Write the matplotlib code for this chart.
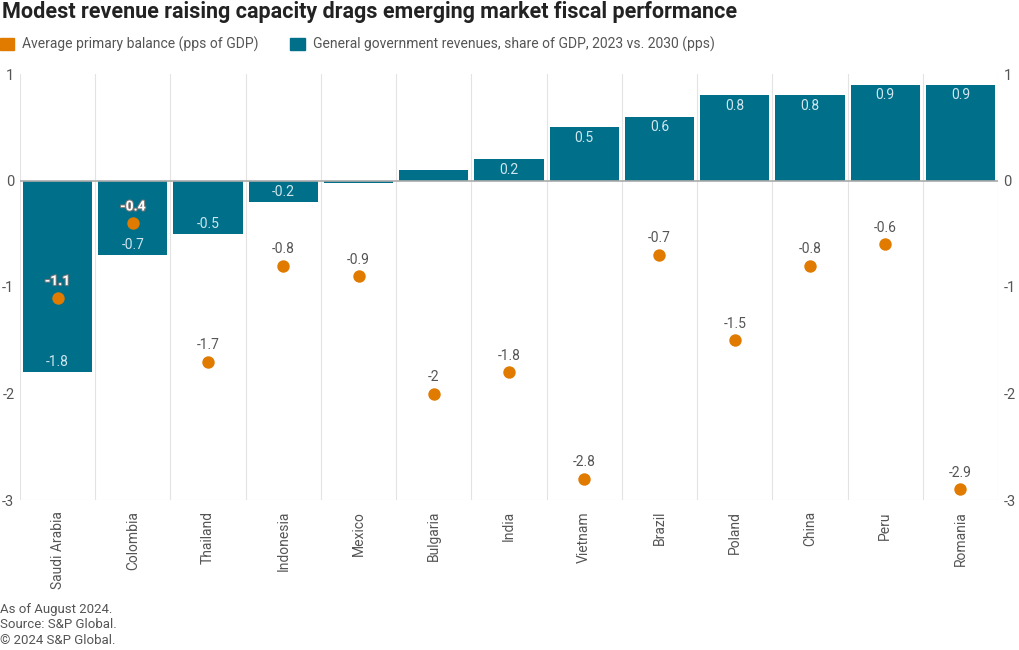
import numpy as np
import matplotlib.pyplot as plt
import matplotlib.patheffects as pe

plt.rcParams['font.family'] = ['Roboto', 'DejaVu Sans']

countries = ["Saudi Arabia", "Colombia", "Thailand", "Indonesia", "Mexico", "Bulgaria",
             "India", "Vietnam", "Brazil", "Poland", "China", "Peru", "Romania"]
revenues = [-1.8, -0.7, -0.5, -0.2, -0.02, 0.1, 0.2, 0.5, 0.6, 0.8, 0.8, 0.9, 0.9]
primary_balance = [-1.1, -0.4, -1.7, -0.8, -0.9, -2.0, -1.8, -2.8, -0.7, -1.5, -0.8, -0.6, -2.9]

teal = "#006F8A"
orange = "#E07B00"
grey_txt = "#555555"

fig = plt.figure(figsize=(10.2, 6.5), dpi=100)
ax = fig.add_axes([20 / 1020, 1 - 500 / 650, 978 / 1020, 426 / 650])

x = np.arange(len(countries))
ax.bar(x, revenues, width=0.92, color=teal, zorder=2)
ax.scatter(x, primary_balance, s=80, color=orange, zorder=4, linewidths=0)

# bar labels at the end of each bar (skip the very small ones)
for xi, v in zip(x, revenues):
    if abs(v) < 0.15:
        continue
    y = v - 0.1 if v > 0 else v + 0.095
    ax.text(xi, y, f"{v:g}", ha="center", va="center", color="#cfe6ee", fontsize=10, zorder=3)

# dot labels
for xi, v, b in zip(x, primary_balance, revenues):
    inside = (b < 0 and v > b)
    if inside:
        ax.text(xi, v + 0.09, f"{v:g}", ha="center", va="bottom", color="white", fontsize=10,
                fontweight="bold", zorder=5,
                path_effects=[pe.withStroke(linewidth=1.5, foreground="#777777")])
    else:
        ax.text(xi, v + 0.09, f"{v:g}", ha="center", va="bottom", color=grey_txt, fontsize=10, zorder=5)

ax.set_xlim(-0.5, len(countries) - 0.5)
ax.set_ylim(-3, 1)
for b in np.arange(-0.5, len(countries), 1.0):
    ax.axvline(b, color="#e3e3e3", lw=0.8, zorder=1)
ax.axhline(0, color="#aaaaaa", lw=1.2, zorder=3)
ax.axhline(-3, color="#e3e3e3", lw=0.8, zorder=1)

for s in ax.spines.values():
    s.set_visible(False)

ax.set_xticks(x)
ax.set_xticklabels(countries, rotation=90, color=grey_txt, fontsize=10)
ax.tick_params(axis="x", length=0, pad=8)
ax.set_yticks([1, 0, -1, -2, -3])
ax.set_yticklabels(["1", "0", "-1", "-2", "-3"])
ax.tick_params(axis="y", length=0, labelcolor=grey_txt, labelsize=10.5, pad=4,
               left=False, right=False, labelleft=True, labelright=True)

fig.text(2 / 1020, 1 - 12 / 650, "Modest revenue raising capacity drags emerging market fiscal performance",
         fontsize=15.5, fontweight="bold", color="#222222", va="center", ha="left")

# legend
fig.patches.append(plt.Rectangle((0, 1 - 50 / 650), 14 / 1020, 12 / 650, transform=fig.transFigure,
                                 color=orange, figure=fig))
fig.text(22 / 1020, 1 - 44 / 650, "Average primary balance (pps of GDP)", fontsize=10,
         color=grey_txt, va="center")
fig.patches.append(plt.Rectangle((290 / 1020, 1 - 50 / 650), 15 / 1020, 12 / 650, transform=fig.transFigure,
                                 color=teal, figure=fig))
fig.text(313 / 1020, 1 - 44 / 650, "General government revenues, share of GDP, 2023 vs. 2030 (pps)",
         fontsize=10, color=grey_txt, va="center")

footer = ["As of August 2024.", "Source: S&P Global.", "\u00a9 2024 S&P Global."]
for i, line in enumerate(footer):
    fig.text(0, 1 - (609 + 16 * i) / 650, line, fontsize=9.5, color=grey_txt, va="center")

fig.savefig("out.png", dpi=100)
